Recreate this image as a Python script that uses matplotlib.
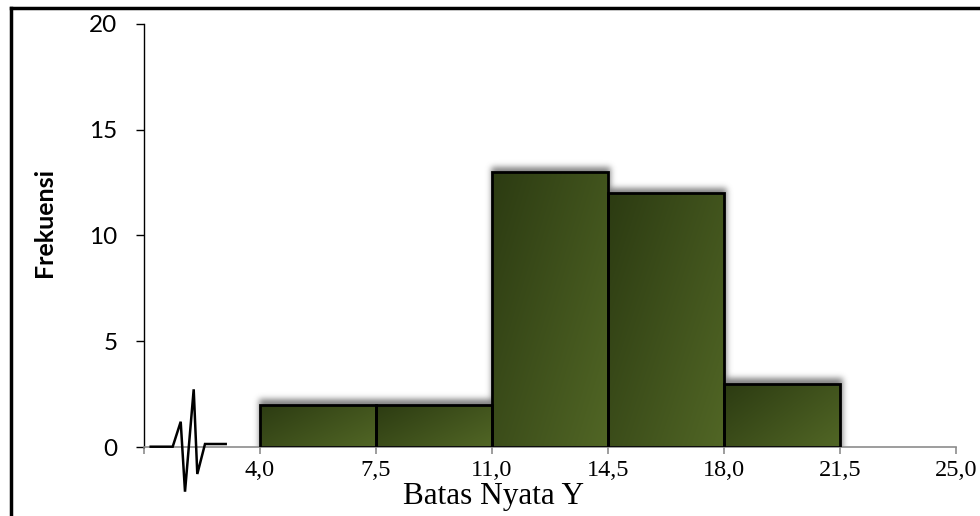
import numpy as np
import matplotlib
matplotlib.use("Agg")
import matplotlib.pyplot as plt
from matplotlib.patches import Rectangle
from matplotlib.lines import Line2D

# class boundaries (batas nyata) and frequencies
bin_edges = [4.0, 7.5, 11.0, 14.5, 18.0, 21.5]
frequencies = [2, 2, 13, 12, 3]
x_ticks = [0.5, 4.0, 7.5, 11.0, 14.5, 18.0, 21.5, 25.0]
x_tick_labels = ["", "4,0", "7,5", "11,0", "14,5", "18,0", "21,5", "25,0"]
y_ticks = [0, 5, 10, 15, 20]

W, H = 980, 516
fig = plt.figure(figsize=(W / 100, H / 100), dpi=100)
fig.patch.set_facecolor("white")

ax_l, ax_b = 144 / W, (H - 447) / H
ax_w, ax_h = (956 - 144) / W, (447 - 24) / H
ax = fig.add_axes([ax_l, ax_b, ax_w, ax_h])
ax.set_xlim(0.5, 25.0)
ax.set_ylim(0, 20)
ax.set_facecolor("none")

for s in ("top", "right"):
    ax.spines[s].set_visible(False)
ax.spines["left"].set_color("black")
ax.spines["left"].set_linewidth(1.0)
ax.spines["bottom"].set_color("#8c8c8c")
ax.spines["bottom"].set_linewidth(1.2)

ax.set_xticks(x_ticks)
ax.set_xticklabels(x_tick_labels, fontfamily="Liberation Serif", fontsize=17.5)
ax.set_yticks(y_ticks)
ax.set_yticklabels([str(v) for v in y_ticks], fontfamily="Lato", fontsize=17.5)
ax.tick_params(axis="x", direction="out", length=5, width=1.2, color="#8c8c8c", pad=4)
ax.tick_params(axis="y", direction="out", length=6, width=1.0, color="black", pad=13)

# pixel scale of the data axes
px_x = (956 - 144) / (25.0 - 0.5)
px_y = (447 - 24) / 20.0

# soft shadow behind the bars
nx, ny = 812, 423
xs = np.linspace(0.5, 25.0, nx)
ys = np.linspace(0, 20, ny)
XX, YY = np.meshgrid(xs, ys)
mask = np.zeros_like(XX)
shift = 5 / px_y
for left, right, f in zip(bin_edges[:-1], bin_edges[1:], frequencies):
    inside = (XX >= left - 1 / px_x) & (XX <= right + 2 / px_x) & (YY <= f + shift)
    mask[inside] = 1.0

def gauss_blur(a, sigma):
    r = int(3 * sigma)
    k = np.exp(-0.5 * (np.arange(-r, r + 1) / sigma) ** 2)
    k /= k.sum()
    pad = np.pad(a, r, mode="edge")
    tmp = np.apply_along_axis(lambda v: np.convolve(v, k, mode="valid"), 1, pad)
    out = np.apply_along_axis(lambda v: np.convolve(v, k, mode="valid"), 0, tmp)
    return out

blur = gauss_blur(mask, 3.0)
shadow = np.zeros((ny, nx, 4))
shadow[..., :3] = 0.35
shadow[..., 3] = blur * 0.75
ax.imshow(shadow, extent=(0.5, 25.0, 0, 20), origin="lower", aspect="auto",
          zorder=1, interpolation="bilinear")

# bars with a diagonal olive gradient (dark top-left, lighter bottom-right)
dark = np.array([0x2c, 0x3b, 0x12]) / 255
light = np.array([0x51, 0x66, 0x25]) / 255
for left, right, f in zip(bin_edges[:-1], bin_edges[1:], frequencies):
    u = np.linspace(0, 1, 80)
    v = np.linspace(0, 1, 80)      # 0 at bottom row, 1 at top row
    U, V = np.meshgrid(u, v)
    t = 0.58 * U + 0.42 * (1 - V)
    img = dark[None, None, :] * (1 - t[..., None]) + light[None, None, :] * t[..., None]
    im = ax.imshow(img, extent=(left, right, 0, f), origin="lower", aspect="auto",
                   zorder=2, interpolation="bilinear")
    rect = Rectangle((left, 0), right - left, f, facecolor="none",
                     edgecolor="black", linewidth=2.0, zorder=3)
    ax.add_patch(rect)
    im.set_clip_path(rect)

ax.set_xlim(0.5, 25.0)
ax.set_ylim(0, 20)

# axis break mark on the x axis
brk_px = [(150.7, 446.7), (172.7, 446.7), (180.7, 421.7), (185.0, 491.7),
          (193.7, 389.3), (197.3, 474.0), (205.0, 444.0), (225.7, 444.0)]
bx = [(p[0] - 144) / 812 for p in brk_px]
by = [(447 - p[1]) / 423 for p in brk_px]
ax.plot(bx, by, color="black", lw=1.8, transform=ax.transAxes, clip_on=False,
        zorder=5, solid_joinstyle="miter")

# axis titles
fig.text(44 / W, 1 - 222 / H, "Frekuensi", rotation=90, ha="center", va="center",
         fontfamily="Lato", fontweight="bold", fontsize=18)
fig.text(493 / W, 1 - 504 / H, "Batas Nyata Y", ha="center", va="baseline",
         fontfamily="Liberation Serif", fontsize=22.5)

# outer frame
fig.add_artist(Line2D([10.8 / W, 1.01], [1 - 8.4 / H, 1 - 8.4 / H],
                      transform=fig.transFigure, color="black", lw=2.5))
fig.add_artist(Line2D([10.8 / W, 10.8 / W], [-0.01, 1 - 8.4 / H],
                      transform=fig.transFigure, color="black", lw=2.5))

fig.savefig("out.png", dpi=100, facecolor="white")
